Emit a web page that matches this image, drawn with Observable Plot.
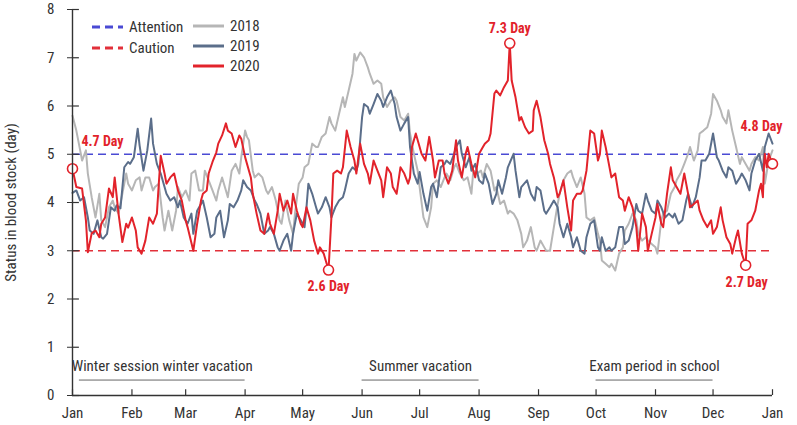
<!DOCTYPE html>
<html><head><meta charset="utf-8">
<script src="https://cdn.jsdelivr.net/npm/d3@7"></script>
<script src="https://cdn.jsdelivr.net/npm/@observablehq/plot@0.6"></script>
<style>
body{margin:0;background:#fff;}
#wrap{position:relative;width:797px;height:425px;font-family:"Liberation Sans Narrow","Roboto Condensed","DejaVu Sans Condensed",sans-serif;}
.lg{position:absolute;display:flex;align-items:center;font-size:15px;color:#333;white-space:nowrap;line-height:20px;}
.lg svg{margin-right:6px;}
</style></head><body><div id="wrap"></div>
<script>
// ---- data (day of year, days of blood stock) ----
const years = ["2018", "2019", "2020"];
const s2018 = [[0,5.8],[2,5.49],[4,5.08],[5,4.87],[7,5.08],[8,4.6],[10,4.11],[12,3.69],[14,4.18],[15,3.63],[17,3.49],[19,3.9],[21,4.04],[22,3.9],[24,3.77],[26,4.18],[28,4.6],[29,4.39],[31,4.25],[33,4.46],[35,4.52],[36,4.25],[38,4.52],[40,4.52],[42,4.25],[43,4.32],[45,4.39],[47,3.69],[48,3.42],[50,3.83],[52,3.42],[54,3.83],[55,4.32],[57,4.11],[59,4.25],[61,4.04],[62,4.6],[64,4.66],[66,4.25],[68,4.25],[69,4.66],[71,4.46],[73,4.25],[75,4.04],[76,4.25],[78,4.52],[80,4.25],[81,4.11],[83,4.66],[85,4.8],[87,4.6],[88,4.94],[90,5.49],[91,5.36],[92,5.29],[94,4.66],[95,4.52],[97,4.6],[99,4.52],[101,4.25],[102,4.18],[104,4.32],[106,4.04],[108,3.63],[109,3.56],[111,4.04],[113,3.63],[115,3.35],[116,3.77],[118,4.39],[120,4.52],[121,4.73],[123,4.8],[125,5.22],[127,5.15],[128,5.15],[130,5.36],[132,5.43],[134,5.77],[135,5.64],[137,5.49],[139,5.84],[141,6.18],[142,5.98],[144,6.32],[146,6.67],[147,7.08],[148,6.94],[150,7.11],[152,7.01],[154,6.8],[155,6.67],[157,6.46],[159,6.53],[161,6.46],[162,6.18],[164,5.98],[166,6.11],[168,6.18],[169,6.11],[171,5.77],[173,5.7],[175,5.84],[176,5.43],[178,5.01],[180,4.66],[181,4.32],[183,3.69],[185,3.49],[187,3.9],[188,4.39],[190,4.46],[192,4.32],[194,4.52],[195,4.6],[197,4.46],[199,4.73],[200,4.8],[202,4.6],[204,4.46],[206,4.52],[208,4.18],[209,4.66],[211,4.6],[213,4.66],[214,4.52],[216,4.8],[218,4.66],[220,4.25],[221,4.32],[223,3.97],[225,4.04],[227,3.77],[228,3.83],[230,3.77],[232,3.63],[234,3.35],[235,3.07],[237,3.21],[239,3.49],[241,3.07],[242,3.0],[244,3.21],[246,3.07],[247,3.0],[249,3.0],[251,3.49],[253,3.97],[254,4.18],[256,4.46],[258,4.6],[260,4.66],[261,4.52],[263,4.32],[265,4.52],[267,4.18],[268,3.69],[270,3.63],[272,3.69],[274,3.35],[275,3.21],[276,2.8],[278,2.73],[280,2.66],[281,2.73],[283,2.59],[285,2.94],[287,3.07],[288,3.42],[290,3.56],[292,3.77],[294,3.63],[295,3.35],[297,3.21],[299,3.28],[300,3.21],[302,3.14],[304,3.07],[305,2.94],[307,3.63],[308,3.77],[310,3.83],[312,4.18],[314,4.32],[315,4.46],[317,4.6],[319,4.8],[321,5.01],[322,5.15],[324,4.87],[326,5.08],[327,5.43],[329,5.49],[331,5.56],[333,5.84],[334,6.25],[336,6.11],[338,5.91],[339,5.77],[341,5.64],[342,5.91],[344,5.49],[346,5.15],[348,4.8],[349,4.94],[351,4.8],[353,4.66],[354,4.8],[356,4.94],[358,4.87],[360,5.15],[361,4.39],[363,4.87],[365,5.08]];
const s2019 = [[0,4.2],[2,4.25],[4,4.04],[6,4.11],[8,3.69],[9,3.42],[11,3.35],[13,3.63],[15,3.28],[16,3.25],[18,3.35],[20,3.9],[22,3.83],[23,3.94],[25,3.88],[27,4.73],[29,4.84],[30,4.8],[32,4.94],[34,5.53],[35,5.18],[37,4.66],[39,5.08],[41,5.74],[42,5.22],[44,4.8],[46,4.6],[48,4.32],[49,4.18],[51,4.04],[53,4.11],[55,3.9],[56,4.04],[58,3.69],[60,3.56],[62,3.77],[63,3.35],[65,3.83],[67,3.97],[68,4.04],[70,3.69],[72,3.28],[74,3.35],[75,3.69],[77,3.83],[79,3.28],[81,3.63],[82,3.97],[84,3.9],[86,4.04],[88,4.25],[89,4.46],[91,4.32],[93,4.25],[95,4.04],[96,3.97],[98,3.77],[100,3.35],[102,3.42],[103,3.49],[105,3.35],[107,3.07],[108,3.0],[110,3.21],[112,3.35],[114,3.0],[115,3.35],[117,3.77],[119,3.63],[121,3.49],[122,3.9],[123,4.39],[125,4.18],[127,3.9],[128,3.77],[130,3.9],[132,4.11],[134,3.9],[135,3.69],[137,3.9],[139,4.04],[141,4.11],[142,4.25],[144,4.6],[146,4.73],[148,4.66],[149,4.8],[151,5.77],[152,6.04],[154,5.98],[155,5.84],[157,6.04],[159,6.25],[161,6.11],[162,5.98],[164,6.18],[166,6.32],[168,6.04],[169,5.77],[171,5.49],[173,5.64],[175,5.77],[176,5.15],[178,4.6],[180,4.39],[181,4.63],[183,4.18],[185,3.83],[187,4.32],[188,4.39],[190,4.11],[192,4.73],[194,4.8],[195,4.87],[197,4.8],[199,5.01],[200,5.15],[202,5.29],[203,5.01],[205,4.73],[207,4.94],[208,4.66],[210,4.8],[212,4.46],[214,4.39],[215,4.6],[217,4.39],[219,3.97],[221,4.18],[222,4.46],[224,4.18],[226,4.52],[227,4.73],[230,5.01],[231,4.66],[233,4.11],[234,4.32],[237,4.46],[239,4.18],[241,4.04],[242,4.32],[244,4.25],[246,3.83],[247,3.77],[249,3.9],[251,4.04],[253,3.9],[254,3.56],[256,3.28],[258,3.56],[260,3.28],[261,3.07],[263,3.28],[265,3.0],[267,2.94],[268,3.28],[270,3.56],[272,3.63],[274,3.07],[275,3.0],[276,3.28],[278,3.0],[280,3.07],[281,3.0],[283,3.07],[285,3.49],[287,3.49],[288,3.14],[290,3.21],[292,3.49],[294,3.97],[295,3.83],[297,3.77],[299,4.18],[300,4.04],[302,3.83],[304,3.77],[305,4.04],[307,3.9],[309,3.69],[311,3.77],[313,3.69],[314,3.77],[316,3.56],[318,3.63],[320,4.04],[321,4.18],[323,3.9],[325,4.11],[327,4.52],[328,4.87],[330,4.87],[332,5.01],[334,5.43],[336,4.94],[337,4.87],[339,4.66],[341,4.52],[342,4.73],[344,4.66],[346,4.39],[348,4.52],[349,4.6],[351,4.46],[353,4.25],[354,4.6],[356,4.87],[358,5.01],[360,4.66],[361,5.15],[363,5.43],[365,5.22]];
const s2020 = [[0,4.7],[2,4.32],[5,4.29],[7,3.63],[8,2.97],[10,3.36],[12,3.42],[14,3.28],[15,3.56],[17,3.69],[19,4.29],[21,4.11],[22,4.52],[24,3.77],[26,3.18],[28,3.56],[29,3.48],[31,3.69],[33,3.42],[34,3.07],[36,2.94],[38,3.21],[40,3.69],[42,3.56],[44,3.77],[45,4.39],[46,4.97],[48,4.6],[49,4.39],[51,4.52],[53,4.6],[55,4.25],[57,4.04],[59,3.63],[60,3.49],[63,3.0],[65,3.56],[67,4.04],[68,4.18],[70,4.25],[71,4.6],[73,4.84],[75,5.04],[76,5.22],[78,5.39],[80,5.64],[81,5.49],[83,5.43],[85,5.15],[87,5.39],[88,5.32],[90,4.94],[93,4.52],[94,4.18],[96,3.77],[98,3.42],[100,3.35],[102,3.77],[103,3.56],[105,3.35],[107,3.83],[108,4.18],[110,3.83],[112,4.04],[114,3.77],[115,4.18],[117,3.83],[119,3.56],[120,3.49],[122,3.9],[124,3.63],[126,3.21],[128,2.94],[129,3.07],[131,2.94],[133.5,2.6],[135,3.69],[136,4.6],[138,4.66],[140,4.6],[141,4.73],[143,5.49],[145,5.15],[147,4.87],[148,4.6],[150,5.22],[152,4.8],[154,4.6],[155,4.39],[157,4.87],[159,4.66],[161,4.46],[162,4.11],[164,4.73],[166,4.6],[167,4.32],[169,4.18],[171,4.73],[173,4.6],[175,4.39],[176,4.52],[177,5.15],[179,5.43],[180,5.29],[182,5.01],[184,4.87],[186,5.36],[188,4.87],[189,4.52],[191,4.87],[193,4.87],[194,4.6],[196,4.39],[198,4.66],[200,5.29],[201,4.87],[203,4.52],[205,5.01],[206,5.15],[208,4.8],[210,4.52],[212,5.01],[214,5.15],[215,5.22],[217,5.29],[218,5.43],[220,6.26],[221,6.32],[223,6.22],[225,6.39],[227,6.53],[227.6,7.0],[228,7.3],[229,6.53],[231,6.18],[233,5.7],[234,5.77],[236,5.56],[238,5.43],[240,5.49],[240.5,5.91],[242,6.11],[244,5.77],[246,5.29],[248,5.01],[249,4.8],[251,4.52],[253,4.11],[254,4.18],[256,4.46],[258,3.9],[260,3.42],[261,4.04],[263,4.18],[265,4.18],[266,4.25],[268,4.66],[270,5.49],[272,5.43],[274,4.87],[275,5.0],[276,5.49],[278,5.15],[279,4.94],[281,4.52],[283,4.6],[285,4.11],[287,4.04],[288,3.83],[290,4.11],[292,3.9],[294,3.49],[295,3.0],[297,3.77],[299,3.49],[300,3.0],[302,3.35],[304,3.69],[305,3.97],[307,3.56],[308,3.49],[310,4.18],[312,4.73],[313,4.46],[315,4.32],[317,4.18],[319,4.6],[321,4.18],[322,3.9],[324,3.97],[326,4.04],[327,3.83],[329,3.63],[331,3.49],[333,3.63],[334,3.35],[336,3.49],[338,3.9],[339,3.63],[341,3.28],[343,3.14],[344,2.94],[346,3.28],[347,3.42],[349,2.94],[351,2.7],[352,3.56],[354,3.63],[356,3.83],[358,4.25],[359,4.39],[360,4.11],[360.5,4.73],[361,5.01],[362,4.73],[363,5.01],[365,4.8]];

const refNames = ["Attention", "Caution"];
const refValues = [5, 3];
const yTicks = [0, 1, 2, 3, 4, 5, 6, 7, 8];
const yLabel = "Status in blood stock (day)";

const periodNames = ["Winter session winter vacation", "Summer vacation", "Exam period in school"];
const periodStart = [3.6, 151, 273];
const periodEnd = [90, 212, 334];

const annDays = [0, 228, 133.5, 351, 365];
const annValues = [4.7, 7.3, 2.6, 2.7, 4.8];

// ---- styling ----
const FONT = '"Liberation Sans Narrow","Roboto Condensed","DejaVu Sans Condensed",sans-serif';
const seriesColors = ["#b6b6b6", "#5b6e8a", "#e2232b"];
const refColors = ["#4a4ad4", "#e2303a"];
const RED = "#e2232b";
const AX = "#333";

const base = Date.UTC(2019, 0, 1);
const toDate = d => new Date(base + d * 864e5);
const start = toDate(0), end = toDate(365);
const monthTicks = d3.utcMonth.range(start, toDate(366));

const rows = [s2018, s2019, s2020].flatMap((s, i) => s.map(([d, v]) => ({date: toDate(d), value: v, year: years[i]})));
const refs = refNames.map((n, i) => ({name: n, value: refValues[i], color: refColors[i]}));
const periods = periodNames.map((n, i) => ({name: n, start: toDate(periodStart[i]), end: toDate(periodEnd[i]), mid: toDate((periodStart[i] + periodEnd[i]) / 2)}));
const ann = annDays.map((d, i) => ({date: toDate(d), value: annValues[i]}));
const annOffsets = [[30, -27, "middle"], [0, -15, "middle"], [0, 16, "middle"], [1, 17, "middle"], [-11, -37, "middle"]];

const chart = Plot.plot({
  width: 797, height: 425,
  marginLeft: 72, marginRight: 25, marginTop: 9, marginBottom: 30,
  style: {fontFamily: FONT, fontSize: "15px", color: AX, background: "white", overflow: "visible"},
  x: {type: "utc", domain: [start, end]},
  y: {domain: [0, 8]},
  color: {domain: years, range: seriesColors},
  marks: [
    Plot.ruleY(refs, {y: "value", stroke: "color", strokeWidth: 1.6, strokeDasharray: "8,5"}),
    Plot.line(rows, {x: "date", y: "value", z: "year", stroke: "year", strokeWidth: 2, strokeLinejoin: "round"}),
    Plot.ruleY(periods, {y: 0.32, x1: "start", x2: "end", stroke: "#666", strokeWidth: 1}),
    Plot.text(periods, {x: "mid", y: 0.6, text: "name", fill: AX, fontSize: 15}),
    Plot.dot(ann, {x: "date", y: "value", r: 5, stroke: RED, fill: "white", strokeWidth: 1.6}),
    ...ann.map((a, i) => Plot.text([a], {x: "date", y: "value", text: d => `${d.value} Day`, dx: annOffsets[i][0], dy: annOffsets[i][1], textAnchor: annOffsets[i][2], fill: RED, fontWeight: "bold", fontSize: 14})),
    Plot.axisX({ticks: monthTicks, tickFormat: d3.utcFormat("%b"), tickSize: 0, tickPadding: 12, label: null, fontSize: 15}),
    Plot.ruleX(monthTicks, {y1: 0, y2: 0.12, stroke: AX, strokeWidth: 1.2}),
    Plot.axisY({ticks: yTicks, tickSize: 5, tickPadding: 13, label: yLabel, labelAnchor: "center", labelArrow: "none", labelOffset: 67, fontSize: 15}),
    Plot.ruleY(yTicks, {x1: start, x2: toDate(3.6), stroke: AX, strokeWidth: 1.2}),
    Plot.ruleX([start], {y1: 0, y2: 8, stroke: AX, strokeWidth: 1.4}),
    Plot.ruleY([0], {x1: start, x2: end, stroke: AX, strokeWidth: 1.4})
  ]
});

const wrap = document.getElementById("wrap");
wrap.appendChild(chart);

// legend (inside plot, top-left)
function swatch(color, dashed) {
  return `<svg width="31" height="6"><line x1="0" x2="31" y1="3" y2="3" stroke="${color}" stroke-width="3"${dashed ? ' stroke-dasharray="8,5"' : ""}/></svg>`;
}
const legendPos = [[92, 17], [92, 38]];
refs.forEach((r, i) => {
  const el = document.createElement("div");
  el.className = "lg";
  el.style.left = legendPos[i][0] + "px"; el.style.top = legendPos[i][1] + "px";
  el.innerHTML = swatch(r.color, true) + `<span>${r.name}</span>`;
  wrap.appendChild(el);
});
years.forEach((y, i) => {
  const el = document.createElement("div");
  el.className = "lg";
  el.style.left = "193px"; el.style.top = (16 + i * 20) + "px";
  el.innerHTML = swatch(seriesColors[i], false) + `<span>${y}</span>`;
  wrap.appendChild(el);
});
</script>
</body></html>
